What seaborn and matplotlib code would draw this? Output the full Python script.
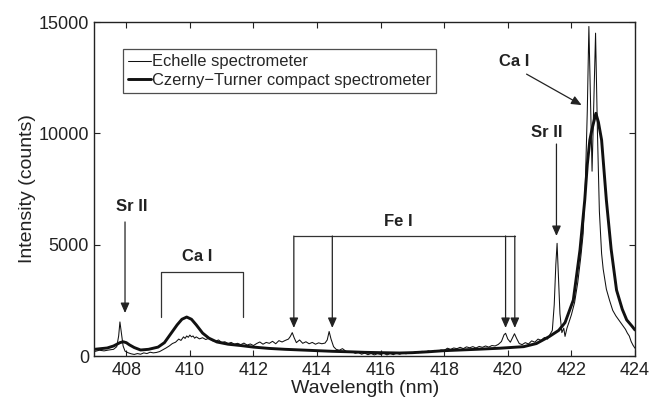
import matplotlib
matplotlib.use("Agg")
import matplotlib.pyplot as plt
import seaborn as sns
import pandas as pd

# Echelle spectrometer (high resolution) spectrum
echelle_nm = [
    407.0, 407.15, 407.3, 407.45, 407.6, 407.7, 407.76, 407.8, 407.84, 407.9, 407.96,
    408.05, 408.15, 408.25, 408.35, 408.45, 408.55, 408.65, 408.75, 408.85, 408.95,
    409.05, 409.15, 409.25, 409.35, 409.45, 409.55, 409.65, 409.72, 409.8, 409.85,
    409.9, 409.95, 410.0, 410.05, 410.1, 410.15, 410.2, 410.3, 410.4, 410.5, 410.6,
    410.7, 410.8, 410.9, 411.0, 411.1, 411.2, 411.3, 411.4, 411.5, 411.6, 411.7,
    411.8, 411.9, 412.0, 412.1, 412.2, 412.3, 412.4, 412.5, 412.6, 412.7, 412.8,
    412.9, 413.0, 413.1, 413.16, 413.22, 413.28, 413.35, 413.45, 413.55, 413.65,
    413.75, 413.85, 413.95, 414.05, 414.15, 414.25, 414.32, 414.38, 414.44, 414.52,
    414.6, 414.7, 414.8, 414.9, 415.0, 415.1, 415.2, 415.3, 415.4, 415.5, 415.6,
    415.7, 415.8, 415.9, 416.0, 416.1, 416.2, 416.3, 416.4, 416.5, 416.6, 416.7,
    416.8, 416.9, 417.0, 417.1, 417.2, 417.3, 417.4, 417.5, 417.6, 417.7, 417.8,
    417.9, 418.0, 418.1, 418.2, 418.3, 418.4, 418.5, 418.6, 418.7, 418.8, 418.9,
    419.0, 419.1, 419.2, 419.3, 419.4, 419.5, 419.6, 419.7, 419.8, 419.88, 419.93,
    420.0, 420.08, 420.15, 420.21, 420.28, 420.36, 420.45, 420.55, 420.65, 420.75,
    420.85, 420.95, 421.05, 421.15, 421.25, 421.32, 421.4, 421.46, 421.51, 421.55,
    421.59, 421.64, 421.7, 421.76, 421.8, 421.86, 421.92, 422.0, 422.1, 422.2,
    422.3, 422.37, 422.44, 422.5, 422.55, 422.6, 422.65, 422.7, 422.76, 422.82,
    422.88, 422.95, 423.0, 423.1, 423.2, 423.3, 423.4, 423.5, 423.6, 423.7, 423.76,
    423.82, 423.88, 423.94, 424.0,
]
echelle_counts = [
    200, 260, 230, 270, 300, 420, 900, 1530, 1100, 450, 220,
    150, 100, 70, 110, 80, 140, 110, 170, 140, 160,
    200, 280, 360, 450, 560, 620, 760, 700, 860, 790,
    900, 840, 940, 860, 900, 800, 860, 770, 820, 740, 800,
    690, 660, 720, 610, 640, 560, 610, 530, 570, 510, 580,
    490, 540, 470, 560, 630, 530, 610, 570, 660, 550, 690,
    630, 700, 760, 880, 1050, 820, 600, 720, 570, 640,
    550, 610, 530, 590, 550, 580, 720, 1100, 760, 420,
    300, 260, 330, 220, 160, 200, 120, 160, 80, 130, 60,
    110, 50, 100, 70, 120, 50, 110, 60, 130, 80, 140,
    100, 160, 130, 190, 150, 210, 170, 230, 190, 250, 210,
    270, 250, 350, 300, 360, 330, 390, 330, 410, 370, 420,
    360, 430, 390, 450, 400, 470, 450, 520, 650, 950, 1020,
    760, 620, 820, 1000, 780, 560, 510, 600, 540, 680,
    620, 760, 700, 830, 760, 950, 1150, 2300, 4100, 5060,
    3600, 1900, 1050, 1250, 880, 1250, 1500, 1850, 2400, 3300,
    4500, 5500, 7800, 11000, 14800, 11500, 8300, 11200, 14500, 10000,
    6500, 4600, 3900, 3000, 2500, 2050, 1800, 1600, 1400, 1200, 1030,
    900, 650, 480, 350,
]

# Czerny-Turner compact spectrometer (low resolution) spectrum
compact_nm = [
    407.0, 407.2, 407.4, 407.6, 407.8, 407.9, 408.0, 408.1, 408.25, 408.45, 408.7,
    409.0, 409.2, 409.44, 409.6, 409.75, 409.9, 410.05, 410.2, 410.4, 410.6, 410.85,
    411.2, 411.6, 412.0, 412.5, 413.0, 413.67, 414.0, 414.5, 415.0, 415.5, 416.0,
    416.6, 417.0, 417.5, 418.0, 418.5, 419.0, 419.75, 420.5, 420.9, 421.3, 421.6,
    421.8, 422.06, 422.27, 422.42, 422.5, 422.58, 422.65, 422.77, 422.85, 422.95,
    423.1, 423.25, 423.42, 423.6, 423.74, 423.9, 424.0,
]
compact_counts = [
    300, 330, 360, 450, 600, 640, 600, 500, 380, 270, 300,
    400, 600, 1080, 1400, 1650, 1750, 1650, 1400, 1030, 800, 630,
    530, 470, 400, 340, 300, 260, 240, 210, 190, 165, 150,
    135, 150, 190, 240, 270, 300, 350, 420, 560, 870, 1150,
    1500, 2510, 4760, 7000, 8600, 9700, 10200, 10900, 10500, 9700,
    7000, 4800, 2960, 2100, 1620, 1350, 1170,
]

legend_labels = ["Echelle spectrometer", "Czerny\u2212Turner compact spectrometer"]
x_ticks = [408, 410, 412, 414, 416, 418, 420, 422, 424]
y_ticks = [0, 5000, 10000, 15000]

# Line assignments
ca_bracket = (409.09, 411.68, 3770, 1750)          # left, right, top, leg bottom
fe_lines = [413.27, 414.48, 419.93, 420.22]
fe_top, fe_tip = 5390, 1260

sns.set_theme(style="ticks")
plt.rcParams["font.family"] = ["Liberation Sans", "DejaVu Sans"]

fig = plt.figure(figsize=(6.49, 4.04), dpi=100)
ax = fig.add_axes([0.1456, 0.1188, 0.9784 - 0.1456, 0.9455 - 0.1188])

df_e = pd.DataFrame({"nm": echelle_nm, "counts": echelle_counts})
df_c = pd.DataFrame({"nm": compact_nm, "counts": compact_counts})
sns.lineplot(data=df_e, x="nm", y="counts", ax=ax, color="#111111", lw=0.75,
             sort=False, label=legend_labels[0])
sns.lineplot(data=df_c, x="nm", y="counts", ax=ax, color="#111111", lw=2.1,
             sort=False, label=legend_labels[1])

ax.set_xlim(407, 424)
ax.set_ylim(0, 15000)
ax.set_xticks(x_ticks)
ax.set_yticks(y_ticks)
ax.set_xlabel("Wavelength (nm)", fontsize=14, color="#222222", labelpad=1)
ax.set_ylabel("Intensity (counts)", fontsize=14, color="#222222", labelpad=2)
ax.tick_params(direction="in", length=4, width=0.8, top=True, right=True,
               labelsize=13, colors="#222222", pad=4)
for s in ax.spines.values():
    s.set_linewidth(1.0)
    s.set_color("#222222")
    s.set_visible(True)

leg = ax.legend(loc="upper left", bbox_to_anchor=(0.052, 0.918), frameon=True,
                fancybox=False, fontsize=11.9, handlelength=1.4, handletextpad=0.1,
                borderpad=0.3, labelspacing=0.2, borderaxespad=0)
leg.get_frame().set_edgecolor("#222222")
leg.get_frame().set_linewidth(0.9)

arrow_kw = dict(arrowstyle="-|>,head_length=0.5,head_width=0.22", color="#222222",
                lw=0.9, shrinkA=0, shrinkB=0)
bold = dict(fontsize=12, fontweight="bold", ha="center", va="center", color="#222222")

# Sr II 407.8 nm
ax.annotate("", xy=(407.96, 1930), xytext=(407.96, 6020), arrowprops=arrow_kw)
ax.text(408.17, 6735, "Sr II", **bold)

# Ca I bracket
l, r, top, bot = ca_bracket
ax.plot([l, l, r, r], [bot, top, top, bot], color="#333333", lw=0.9)
ax.text(410.22, 4460, "Ca I", **bold)

# Fe I group
ax.plot([fe_lines[0], fe_lines[-1]], [fe_top, fe_top], color="#333333", lw=0.9)
for w in fe_lines:
    ax.annotate("", xy=(w, fe_tip), xytext=(w, fe_top), arrowprops=arrow_kw)
ax.text(416.55, 6030, "Fe I", **bold)

# Sr II 421.5 nm
ax.annotate("", xy=(421.53, 5390), xytext=(421.53, 9520), arrowprops=arrow_kw)
ax.text(421.22, 10030, "Sr II", **bold)

# Ca I 422.7 nm
ax.annotate("", xy=(422.32, 11270), xytext=(420.59, 12660), arrowprops=arrow_kw)
ax.text(420.2, 13215, "Ca I", **bold)

fig.savefig("out.png", dpi=100)
